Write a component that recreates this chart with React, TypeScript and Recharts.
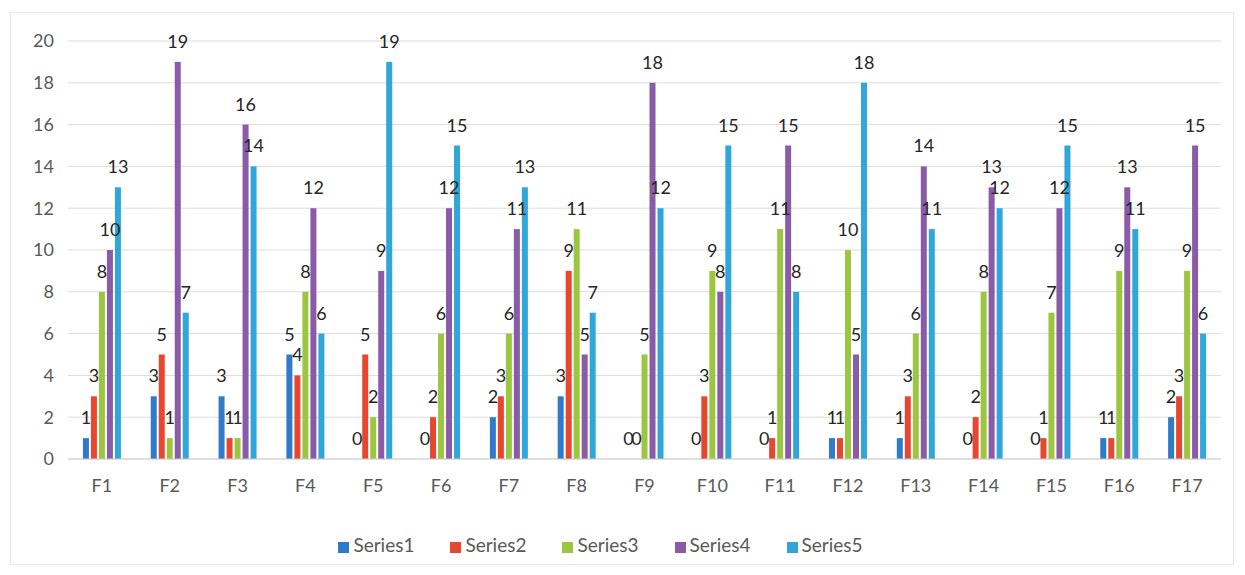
import React from 'react';
import { BarChart, Bar, XAxis, YAxis, CartesianGrid, Legend } from 'recharts';

const categories = ['F1','F2','F3','F4','F5','F6','F7','F8','F9','F10','F11','F12','F13','F14','F15','F16','F17'];
const series1 = [1,3,3,5,0,0,2,3,0,0,0,1,1,0,0,1,2];
const series2 = [3,5,1,4,5,2,3,9,0,3,1,1,3,2,1,1,3];
const series3 = [8,1,1,8,2,6,6,11,5,9,11,10,6,8,7,9,9];
const series4 = [10,19,16,12,9,12,11,5,18,8,15,5,14,13,12,13,15];
const series5 = [13,7,14,6,19,15,13,7,12,15,8,18,11,12,15,11,6];
const yTicks = [0,2,4,6,8,10,12,14,16,18,20];

const seriesNames = ['Series1','Series2','Series3','Series4','Series5'];
const seriesColors = ['#2f7bc9','#e8472f','#9cc63f','#8a5ba6','#30a6d9'];
const seriesValues = [series1, series2, series3, series4, series5];

const data = categories.map((c, i) => {
  const row: any = { name: c };
  seriesNames.forEach((s, k) => { row[s] = seriesValues[k][i]; });
  return row;
});

const FONT = 'Lato, "Open Sans", sans-serif';

const renderLabel = (props: any) => {
  const { x, y, width, height, value } = props;
  if (x == null || y == null) return null;
  const top = Number(value) === 0 ? Number(y) + Number(height) : Number(y);
  return (
    <text
      x={Number(x) + Number(width) / 2}
      y={top - 14}
      textAnchor="middle"
      fill="#262626"
      fontSize={18}
      fontFamily={FONT}
    >
      {value}
    </text>
  );
};

const makeShape = (key: string) => (props: any) => {
  const { x, y, width, height, fill, payload } = props;
  if (payload && Number(payload[key]) === 0) return <g />;
  return <rect x={x} y={y} width={width} height={height} fill={fill} />;
};

export default function App() {
  return (
    <div style={{ width: 1229, height: 559, fontFamily: FONT, position: 'relative' }}>
      <div style={{ position: 'absolute', left: 2, top: 4, width: 1222, height: 551, border: '1px solid #e6e6e6' }} />
      <BarChart
        width={1229}
        height={559}
        data={data}
        margin={{ top: 33, right: 16, left: 8, bottom: 42 }}
        barCategoryGap="22%"
        barGap={2}
      >
        <CartesianGrid vertical={false} stroke="#dcdcdc" />
        <XAxis
          dataKey="name"
          tickLine={false}
          axisLine={{ stroke: '#d0d0d0' }}
          tickMargin={14}
          height={40}
          tick={{ fill: '#595959', fontSize: 18, fontFamily: FONT }}
        />
        <YAxis
          width={52}
          domain={[0, 20]}
          ticks={yTicks}
          axisLine={false}
          tickLine={false}
          tickMargin={8}
          tick={{ fill: '#595959', fontSize: 18, fontFamily: FONT }}
        />
        <Legend
          verticalAlign="bottom"
          height={26}
          iconType="square"
          iconSize={11}
          wrapperStyle={{ bottom: 8, fontSize: 19, fontFamily: FONT, color: '#595959' }}
          formatter={(v: string) => <span style={{ color: '#595959', marginRight: 26 }}>{v}</span>}
        />
        {seriesNames.map((s, k) => (
          <Bar
            key={s}
            dataKey={s}
            fill={seriesColors[k]}
            isAnimationActive={false}
            label={renderLabel}
            minPointSize={1}
            shape={makeShape(s)}
          />
        ))}
      </BarChart>
    </div>
  );
}
